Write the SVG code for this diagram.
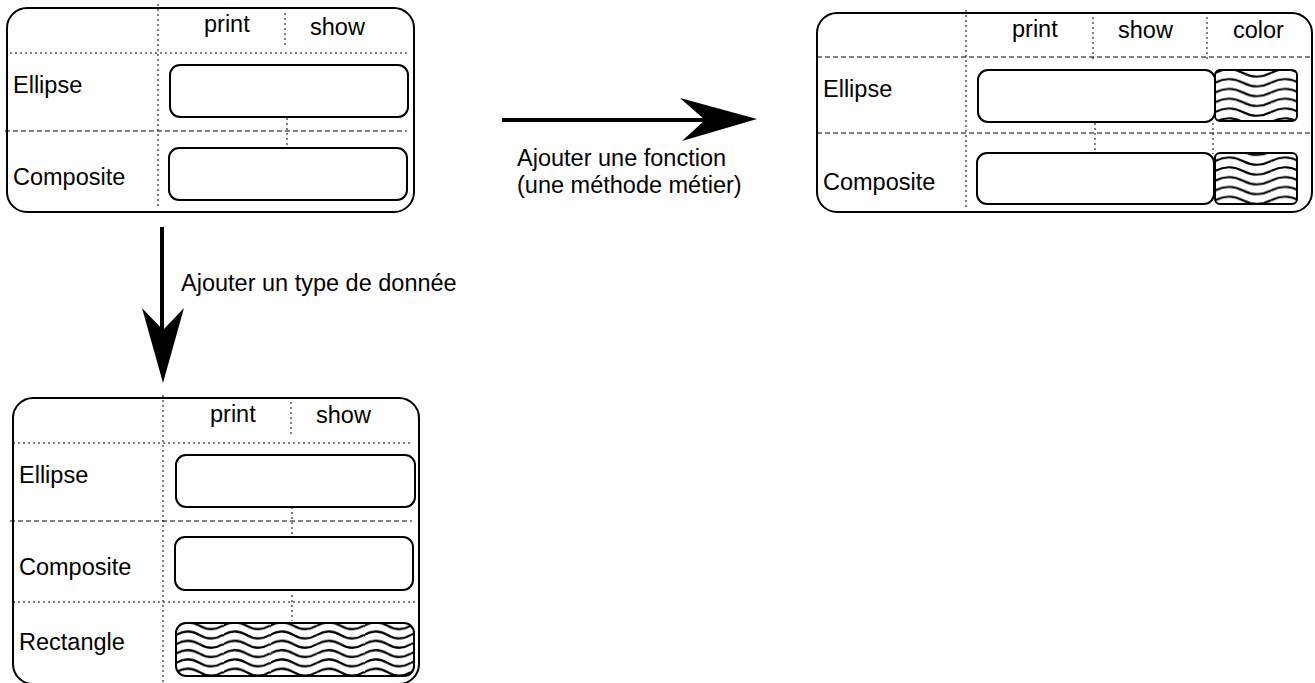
<svg xmlns="http://www.w3.org/2000/svg" width="1315" height="683" viewBox="0 0 1315 683">
<style>
text{font-family:"Liberation Sans",Arial,sans-serif;font-size:23.5px;fill:#000}
.outer{fill:#fff;stroke:#000;stroke-width:2}
.cell{fill:#fff;stroke:#000;stroke-width:2}
.wave{stroke:#000;stroke-width:2}
.dot{stroke:#000;stroke-width:1;stroke-dasharray:2 3;fill:none}
.dash{stroke:#000;stroke-width:1;stroke-dasharray:5 3;fill:none}
.arrow{stroke:#000;stroke-width:4;fill:none}
.head{fill:#000;stroke:none}
</style>
<defs>
<pattern id="waves" patternUnits="userSpaceOnUse" width="47" height="9.3" x="176" y="621">
<path d="M0,4.65 C7.8,0 15.7,0 23.5,4.65 S39.2,9.3 47,4.65" fill="none" stroke="#000" stroke-width="2.1"/>
</pattern>
<pattern id="waves2" patternUnits="userSpaceOnUse" width="56" height="9.8" x="1215" y="68">
<path d="M0,4.9 C9.3,0 18.7,0 28,4.9 S46.7,9.8 56,4.9" fill="none" stroke="#000" stroke-width="2.1"/>
</pattern>
</defs>
<rect width="1315" height="683" fill="#fff"/>

<g id="box-original">
<rect class="outer" x="7" y="8" width="407" height="204" rx="20"/>
<line class="dot" x1="158" y1="4" x2="158" y2="207"/>
<line class="dot" x1="10" y1="53" x2="408" y2="53"/>
<line class="dot" x1="285" y1="13" x2="285" y2="46"/>
<line class="dash" x1="5" y1="131" x2="407" y2="131"/>
<line class="dot" x1="287" y1="118" x2="287" y2="149"/>
<rect class="cell" x="170" y="65" width="238" height="52" rx="10"/>
<rect class="cell" x="169" y="148" width="238" height="52" rx="10"/>
<text x="204" y="32">print</text>
<text x="310" y="35">show</text>
<text x="13" y="93">Ellipse</text>
<text x="13" y="185">Composite</text>
</g>

<g id="box-function">
<rect class="outer" x="817" y="13" width="495" height="199" rx="20"/>
<line class="dot" x1="966" y1="10" x2="966" y2="210"/>
<line class="dash" x1="817" y1="57" x2="1310" y2="57"/>
<line class="dot" x1="1093" y1="17" x2="1093" y2="60"/>
<line class="dot" x1="1207" y1="17" x2="1207" y2="60"/>
<line class="dash" x1="817" y1="133" x2="1310" y2="133"/>
<line class="dot" x1="1095" y1="123" x2="1095" y2="154"/>
<line class="dot" x1="1213" y1="123" x2="1213" y2="154"/>
<rect class="cell" x="978" y="70" width="237" height="52" rx="10"/>
<rect class="cell" x="977" y="153" width="237" height="51" rx="10"/>
<rect class="wave" fill="url(#waves2)" x="1215" y="70" width="82" height="51" rx="5"/>
<rect class="wave" fill="url(#waves2)" x="1215" y="153" width="82" height="51" rx="5"/>
<text x="1012" y="37">print</text>
<text x="1118" y="38">show</text>
<text x="1233" y="38">color</text>
<text x="823" y="97">Ellipse</text>
<text x="823" y="190">Composite</text>
</g>

<g id="box-type">
<rect class="outer" x="13" y="398" width="406" height="286" rx="20"/>
<line class="dot" x1="163" y1="395" x2="163" y2="683"/>
<line class="dot" x1="13" y1="443" x2="412" y2="443"/>
<line class="dot" x1="291" y1="402" x2="291" y2="436"/>
<line class="dash" x1="10" y1="521" x2="412" y2="521"/>
<line class="dot" x1="292" y1="507" x2="292" y2="540"/>
<line class="dot" x1="13" y1="602" x2="415" y2="602"/>
<line class="dot" x1="292" y1="595" x2="292" y2="621"/>
<rect class="cell" x="176" y="455" width="239" height="52" rx="10"/>
<rect class="cell" x="175" y="537" width="238" height="53" rx="10"/>
<rect class="wave" fill="url(#waves)" x="176" y="623" width="238" height="53" rx="10"/>
<text x="210" y="422">print</text>
<text x="316" y="423">show</text>
<text x="19" y="483">Ellipse</text>
<text x="19" y="575">Composite</text>
<text x="19" y="650">Rectangle</text>
</g>

<g id="connectors">
<g id="arrow-function">
<line class="arrow" x1="502" y1="120" x2="706" y2="120"/>
<polygon class="head" points="757,119 680,98 705,120 682,141"/>
<text x="517" y="166">Ajouter une fonction</text>
<text x="517" y="193">(une méthode métier)</text>
</g>
<g id="arrow-type">
<line class="arrow" x1="162" y1="227" x2="162" y2="332"/>
<polygon class="head" points="163,383 142,308 163,330 184,308"/>
<text x="181" y="291">Ajouter un type de donnée</text>
</g>
</g>
</svg>
